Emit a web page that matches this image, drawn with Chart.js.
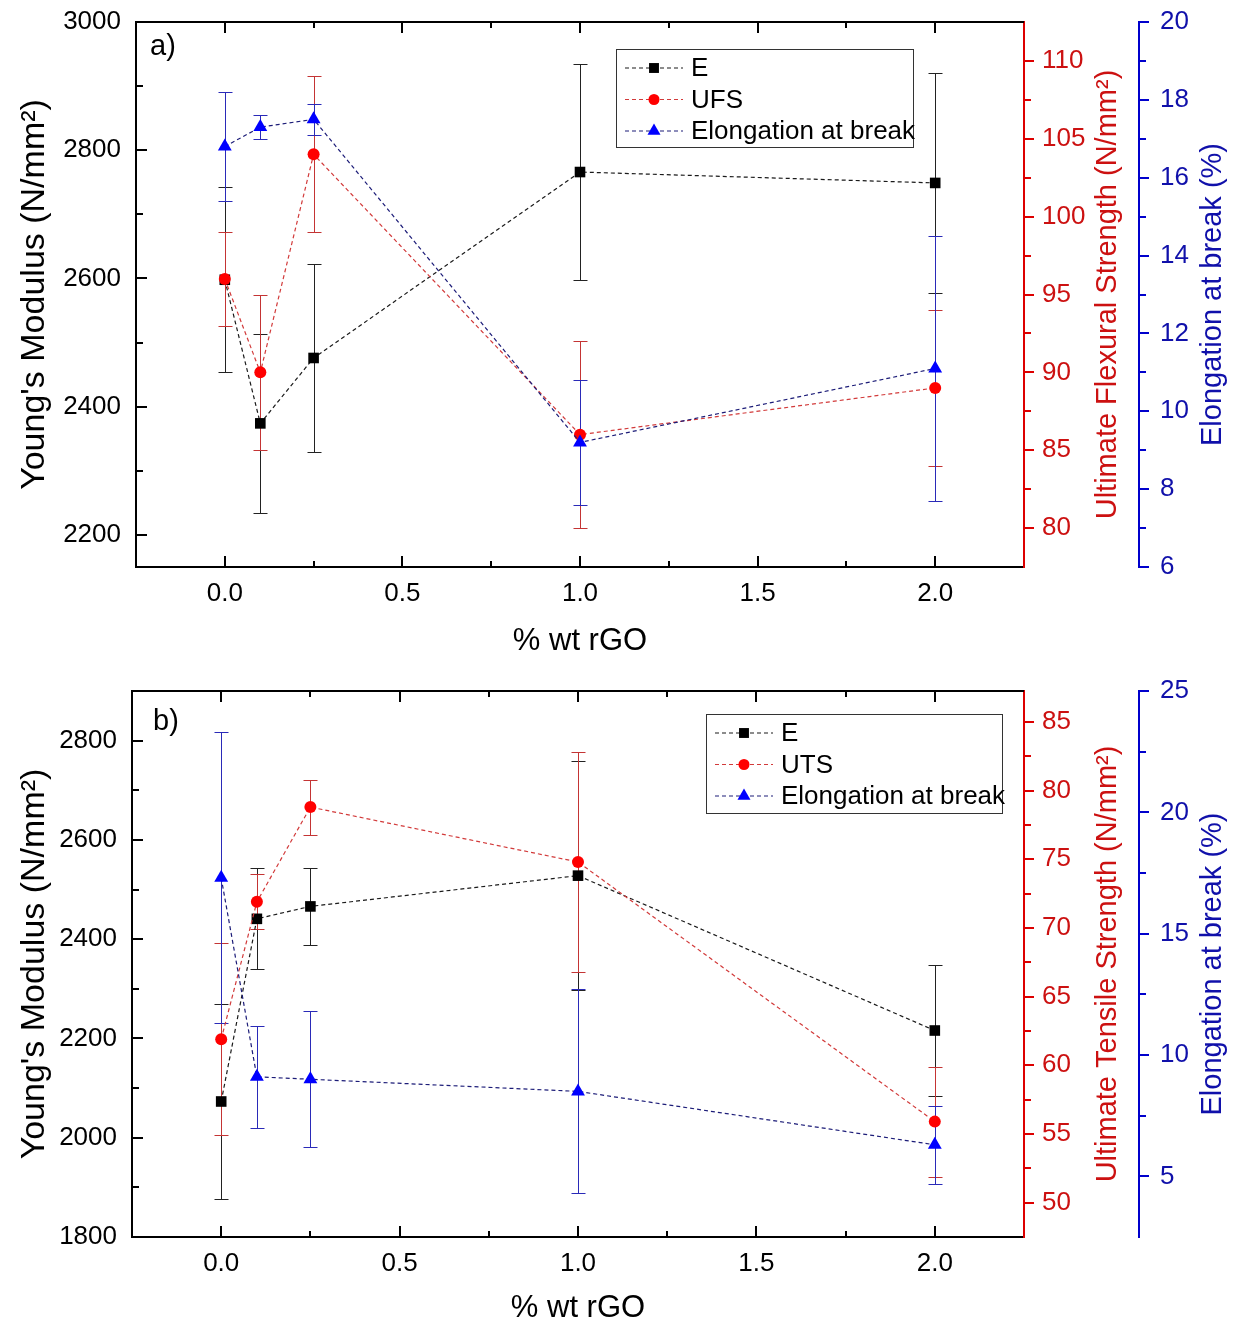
<!DOCTYPE html>
<html>
<head>
<meta charset="utf-8">
<script src="https://cdn.jsdelivr.net/npm/chart.js@4.4.1/dist/chart.umd.min.js"></script>
<style>
  html, body { margin: 0; padding: 0; background: #fff; }
  canvas { display: block; }
</style>
</head>
<body>
<canvas id="flexural" width="1238" height="665"></canvas>
<canvas id="tensile" width="1238" height="662"></canvas>
<script>
const FONT = "'Liberation Sans', Arial, sans-serif"
const RED = '#dd0000'
const RED_TEXT = '#cc1111'
const BLUE = '#0000cc'
const BLUE_TEXT = '#1010aa'

// rGO content, % wt
const rgo = [0, 0.1, 0.25, 1.0, 2.0]

// a) flexural tests
const flexE = [2598, 2374, 2476, 2766, 2749]
const flexEErr = [144, 139, 147, 169, 172]
const flexUFS = [96, 90, 104, 86, 89]
const flexUFSErr = [3, 5, 5, 6, 5]
const flexElong = [16.8, 17.3, 17.5, 9.2, 11.1]
const flexElongErr = [1.4, 0.3, 0.4, 1.6, 3.4]

// b) tensile tests
const tensE = [2073, 2441, 2466, 2528, 2216]
const tensEErr = [196, 102, 77, 231, 132]
const tensUTS = [61.9, 71.9, 78.8, 74.8, 55.9]
const tensUTSErr = [7, 2, 2, 8, 4]
const tensElong = [17.3, 9.1, 9.0, 8.5, 6.3]
const tensElongErr = [6, 2.1, 2.8, 4.2, 1.6]

// tick labels
const xTicks = [0, 0.5, 1.0, 1.5, 2.0]
const flexETicks = [2200, 2400, 2600, 2800, 3000]
const flexUFSTicks = [80, 85, 90, 95, 100, 105, 110]
const flexElongTicks = [6, 8, 10, 12, 14, 16, 18, 20]
const tensETicks = [1800, 2000, 2200, 2400, 2600, 2800]
const tensUTSTicks = [50, 55, 60, 65, 70, 75, 80, 85]
const tensElongTicks = [5, 10, 15, 20, 25]

const font = size => ({ family: FONT, size })

function strokeLine(ctx, x1, y1, x2, y2) {
  ctx.beginPath()
  ctx.moveTo(x1, y1)
  ctx.lineTo(x2, y2)
  ctx.stroke()
}

// same shapes as Chart.js point styles
function marker(ctx, style, x, y, r, color) {
  ctx.fillStyle = color
  ctx.beginPath()
  if (style === 'rect') {
    const s = Math.SQRT1_2 * r
    ctx.rect(x - s, y - s, 2 * s, 2 * s)
  } else if (style === 'triangle') {
    for (let k = 0; k < 3; k++) {
      const a = k * 2 * Math.PI / 3
      ctx.lineTo(x + Math.sin(a) * r, y - Math.cos(a) * r)
    }
    ctx.closePath()
  } else {
    ctx.arc(x, y, r, 0, 2 * Math.PI)
  }
  ctx.fill()
}

// half-step values between the labelled ticks
function minorValues(scale) {
  const major = scale.ticks.map(t => t.value)
  const half = (major[1] - major[0]) / 2
  const start = major[0] - half * Math.ceil((major[0] - scale.min) / half)
  const out = []
  for (let k = 0; ; k++) {
    const v = start + k * half
    if (v > scale.max + 1e-9) break
    const onMajor = major.some(m => Math.abs(m - v) < 1e-9)
    if (!onMajor && v > scale.min + 1e-9 && v < scale.max - 1e-9) out.push(v)
  }
  return out
}

// top edge of the frame plus Origin-style tick marks
const frame = {
  id: 'frame',
  afterDraw(chart) {
    const { ctx, chartArea: a, scales } = chart
    ctx.save()
    ctx.lineWidth = 2
    ctx.strokeStyle = '#000'
    strokeLine(ctx, a.left, a.top, a.right, a.top)

    const xs = scales.x
    const xMarks = xs.ticks.map(t => [t.value, 11]).concat(minorValues(xs).map(v => [v, 6]))
    xMarks.forEach(([v, len]) => {
      const px = Math.round(xs.getPixelForValue(v))
      strokeLine(ctx, px, a.bottom, px, a.bottom - len)
      strokeLine(ctx, px, a.top, px, a.top + len)
    })

    const ys = scales.yE
    ys.ticks.map(t => [t.value, 11]).concat(minorValues(ys).map(v => [v, 7])).forEach(([v, len]) => {
      const py = Math.round(ys.getPixelForValue(v))
      strokeLine(ctx, a.left, py, a.left + len, py)
    })

    ;[['yR', RED], ['yB', BLUE]].forEach(([id, color]) => {
      const s = scales[id]
      ctx.strokeStyle = color
      s.ticks.map(t => [t.value, 10]).concat(minorValues(s).map(v => [v, 7])).forEach(([v, len]) => {
        const py = Math.round(s.getPixelForValue(v))
        strokeLine(ctx, s.left, py, s.left + len, py)
      })
    })
    ctx.restore()
  }
}

// vertical error bars with caps, behind the lines and markers
const errorBars = {
  id: 'errorBars',
  beforeDatasetsDraw(chart) {
    const { ctx, scales } = chart
    chart.data.datasets.forEach(ds => {
      const ys = scales[ds.yAxisID]
      ctx.save()
      ctx.strokeStyle = ds.errorColor
      ctx.lineWidth = 1
      ds.data.forEach((p, j) => {
        const x = Math.round(scales.x.getPixelForValue(p.x)) + 0.5
        const top = Math.round(ys.getPixelForValue(p.y + ds.errors[j])) + 0.5
        const bot = Math.round(ys.getPixelForValue(p.y - ds.errors[j])) + 0.5
        strokeLine(ctx, x, top, x, bot)
        strokeLine(ctx, x - 7, top, x + 7, top)
        strokeLine(ctx, x - 7, bot, x + 7, bot)
      })
      ctx.restore()
    })
  }
}

// framed legend inside the plot, line sample with marker
const boxLegend = {
  id: 'boxLegend',
  afterDraw(chart, args, o) {
    const { ctx } = chart
    ctx.save()
    ctx.fillStyle = '#fff'
    ctx.fillRect(o.left, o.top, o.width, o.height)
    ctx.strokeStyle = '#333'
    ctx.lineWidth = 1
    ctx.strokeRect(o.left + 0.5, o.top + 0.5, o.width, o.height)
    chart.data.datasets.forEach((ds, i) => {
      const y = o.top + 19 + i * 31.5
      ctx.strokeStyle = ds.borderColor
      ctx.lineWidth = ds.borderWidth
      ctx.setLineDash(ds.borderDash)
      strokeLine(ctx, o.left + 9, y, o.left + 67, y)
      ctx.setLineDash([])
      marker(ctx, ds.pointStyle, o.left + 38, y, ds.pointRadius - 0.5, ds.pointBackgroundColor)
      ctx.fillStyle = '#000'
      ctx.font = `26px ${FONT}`
      ctx.textAlign = 'left'
      ctx.textBaseline = 'middle'
      ctx.fillText(ds.label, o.left + 75, y + 1)
    })
    ctx.restore()
  }
}

// panel letter and the bottom-to-top titles of the two right axes
const annotations = {
  id: 'annotations',
  afterDraw(chart, args, o) {
    const { ctx, chartArea: a } = chart
    ctx.save()
    ctx.fillStyle = '#000'
    ctx.font = `29px ${FONT}`
    ctx.textAlign = 'left'
    ctx.textBaseline = 'middle'
    ctx.fillText(o.panel, o.panelX, o.panelY)
    ;[['yR', 31], ['yB', 25]].forEach(([id, off]) => {
      const s = chart.scales[id]
      const t = s.options.title
      ctx.save()
      ctx.translate(s.right - off, (a.top + a.bottom) / 2)
      ctx.rotate(-Math.PI / 2)
      ctx.fillStyle = t.color
      ctx.font = `29px ${FONT}`
      ctx.textAlign = 'center'
      ctx.textBaseline = 'middle'
      ctx.fillText(t.text, 0, 0)
      ctx.restore()
    })
    ctx.restore()
  }
}

function series(label, values, errors, axis, style, radius, fill, line, errorColor, order) {
  return {
    label,
    data: rgo.map((x, i) => ({ x, y: values[i] })),
    errors,
    errorColor,
    yAxisID: axis,
    order,
    borderColor: line,
    borderWidth: 1.2,
    borderDash: [4, 3],
    tension: 0,
    pointStyle: style,
    pointRadius: radius,
    pointHoverRadius: radius,
    pointBackgroundColor: fill,
    pointBorderWidth: 0,
  }
}

const useTicks = values => scale => { scale.ticks = values.map(value => ({ value })) }

function yAxis(position, range, ticks, width, color, textColor, padding, weight) {
  return {
    type: 'linear',
    position,
    weight,
    min: range[0],
    max: range[1],
    afterBuildTicks: useTicks(ticks),
    // fixed box width; edge labels may overhang the plot
    afterFit: s => { s.width = width; s.paddingTop = 0; s.paddingBottom = 0 },
    grid: { display: false, drawTicks: false },
    border: { display: true, color, width: 2 },
    ticks: { autoSkip: false, padding, color: textColor, font: font(26), callback: v => String(v) },
  }
}

function buildChart(id, p) {
  const yE = yAxis('left', p.eRange, p.eTicks, p.leftWidth, '#000', '#000', 15, 0)
  yE.title = { display: true, text: "Young's Modulus (N/mm²)", color: '#000', font: font(34), padding: 14 }
  const yR = yAxis('right', p.rRange, p.rTicks, 115, RED, RED_TEXT, 18, 0)
  yR.title = { display: false, text: p.rTitle, color: RED_TEXT }
  const yB = yAxis('right', p.bRange, p.bTicks, 99, BLUE, BLUE_TEXT, 21, 1)
  yB.title = { display: false, text: 'Elongation at break (%)', color: BLUE_TEXT }

  return new Chart(document.getElementById(id), {
    type: 'line',
    data: {
      datasets: [
        series('E', p.e, p.eErr, 'yE', 'rect', 7.5, '#000', '#1a1a1a', '#222', 3),
        series(p.rLabel, p.r, p.rErr, 'yR', 'circle', 6, '#ff0000', '#d23a3a', '#c43434', 2),
        series('Elongation at break', p.b, p.bErr, 'yB', 'triangle', 8, '#0000ff', '#1c1c78', '#2a2ab8', 1),
      ],
    },
    options: {
      responsive: false,
      maintainAspectRatio: false,
      animation: false,
      devicePixelRatio: 1,
      events: [],
      layout: { padding: { top: p.top, left: 0, right: 0, bottom: 0 } },
      plugins: {
        legend: { display: false },
        tooltip: { enabled: false },
        boxLegend: p.legend,
        annotations: { panel: p.panel, panelX: p.panelX, panelY: p.panelY },
      },
      scales: {
        x: {
          type: 'linear',
          position: 'bottom',
          min: -0.25,
          max: 2.25,
          afterBuildTicks: useTicks(xTicks),
          afterFit: s => { s.height = p.xHeight; s.paddingLeft = 0; s.paddingRight = 0 },
          grid: { display: false, drawTicks: false },
          border: { display: true, color: '#000', width: 2 },
          ticks: { autoSkip: false, maxRotation: 0, padding: 11, color: '#000', font: font(26), callback: v => v.toFixed(1) },
          title: { display: true, text: '% wt rGO', color: '#000', font: font(31), padding: p.xTitlePad },
        },
        yE,
        yR,
        yB,
      },
    },
    plugins: [errorBars, frame, boxLegend, annotations],
  })
}

buildChart('flexural', {
  top: 22, leftWidth: 136, xHeight: 98, xTitlePad: 5,
  e: flexE, eErr: flexEErr, eRange: [2150, 3000], eTicks: flexETicks,
  r: flexUFS, rErr: flexUFSErr, rRange: [77.5, 112.5], rTicks: flexUFSTicks,
  rLabel: 'UFS', rTitle: 'Ultimate Flexural Strength (N/mm²)',
  b: flexElong, bErr: flexElongErr, bRange: [6, 20], bTicks: flexElongTicks,
  legend: { left: 616, top: 49, width: 297, height: 98 },
  panel: 'a)', panelX: 150, panelY: 47,
})

buildChart('tensile', {
  top: 26, leftWidth: 132, xHeight: 90, xTitlePad: 0,
  e: tensE, eErr: tensEErr, eRange: [1800, 2900], eTicks: tensETicks,
  r: tensUTS, rErr: tensUTSErr, rRange: [47.5, 87.25], rTicks: tensUTSTicks,
  rLabel: 'UTS', rTitle: 'Ultimate Tensile Strength (N/mm²)',
  b: tensElong, bErr: tensElongErr, bRange: [2.5, 25], bTicks: tensElongTicks,
  legend: { left: 706, top: 49, width: 296, height: 99 },
  panel: 'b)', panelX: 153, panelY: 57,
})
</script>
</body>
</html>
